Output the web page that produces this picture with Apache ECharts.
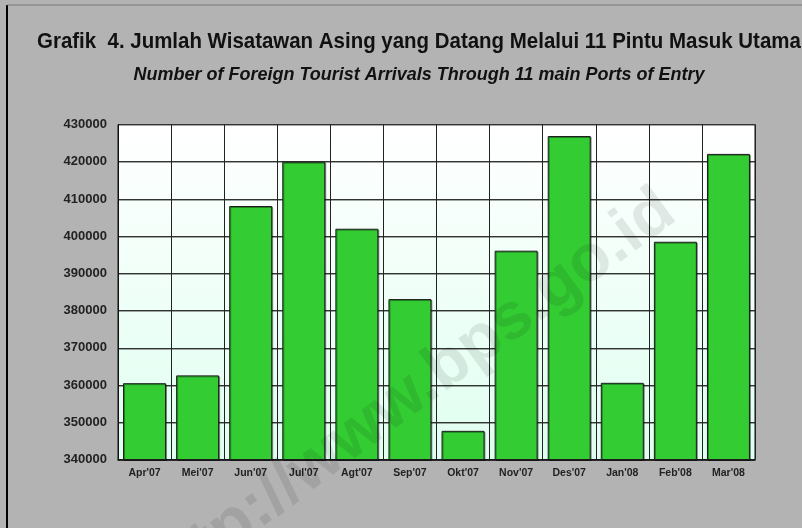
<!DOCTYPE html>
<html>
<head>
<meta charset="utf-8">
<script src="https://cdn.jsdelivr.net/npm/echarts@6/dist/echarts.min.js"></script>
<style>
  html, body { margin: 0; padding: 0; background: #b3b3b3; }
  #chart { width: 802px; height: 528px; }
</style>
</head>
<body>
<div id="chart"></div>
<script>
// data
var months = ["Apr'07", "Mei'07", "Jun'07", "Jul'07", "Agt'07", "Sep'07",
              "Okt'07", "Nov'07", "Des'07", "Jan'08", "Feb'08", "Mar'08"];
var arrivals = [360500, 362600, 408100, 420000, 402000, 383100,
                347700, 396100, 426900, 360600, 398500, 422100];
var yMin = 340000;
var yMax = 430000;
var yStep = 10000;

var titleText = "Grafik  4. Jumlah Wisatawan Asing yang Datang Melalui 11 Pintu Masuk Utama";
var subText = "Number of Foreign Tourist Arrivals Through 11 main Ports of Entry";
var markText = "http://www.bps.go.id";

var sans = '"Liberation Sans", Arial, sans-serif';

var chart = echarts.init(document.getElementById('chart'));
chart.setOption({
    backgroundColor: '#b3b3b3',
    animation: false,
    grid: {
        left: 118,
        right: 47,
        top: 124.5,
        bottom: 68.5,
        show: true,
        borderColor: '#111',
        borderWidth: 1,
        backgroundColor: {
            type: 'linear', x: 0, y: 0, x2: 0, y2: 1,
            colorStops: [
                {offset: 0, color: '#ffffff'},
                {offset: 1, color: '#dffff0'}
            ]
        }
    },
    xAxis: {
        type: 'category',
        data: months,
        axisLine: {show: true, lineStyle: {color: '#111', width: 1.5}},
        axisTick: {show: false},
        splitLine: {show: true, lineStyle: {color: '#222', width: 1}},
        axisLabel: {
            fontFamily: sans,
            fontWeight: 'bold',
            fontSize: 10.5,
            color: '#222',
            margin: 8
        }
    },
    yAxis: {
        type: 'value',
        min: yMin,
        max: yMax,
        interval: yStep,
        axisLine: {show: true, lineStyle: {color: '#111'}},
        axisTick: {show: false},
        splitLine: {
            show: true,
            lineStyle: {color: '#333', width: 1.2, shadowColor: 'rgba(0,0,0,0.35)', shadowOffsetY: 1}
        },
        axisLabel: {
            fontFamily: sans,
            fontWeight: 'bold',
            fontSize: 13,
            color: '#222',
            margin: 11,
            formatter: function (v) { return String(v); }
        }
    },
    series: [{
        type: 'bar',
        data: arrivals,
        barCategoryGap: '19%',
        itemStyle: {
            color: '#33cc33',
            borderColor: '#1a1a1a',
            borderWidth: 1,
            shadowColor: 'rgba(0,0,0,0.35)',
            shadowOffsetX: 1,
            shadowOffsetY: 1
        }
    }],
    graphic: [
        {type: 'line', shape: {x1: 7, y1: 5, x2: 7, y2: 528}, style: {stroke: '#000', lineWidth: 2}},
        {type: 'line', shape: {x1: 7, y1: 5, x2: 802, y2: 5}, style: {stroke: '#777', lineWidth: 1}},
        {
            type: 'text',
            x: 37, y: 31,
            scaleX: 0.93,
            style: {
                text: titleText,
                fontFamily: sans,
                fontWeight: 'bold',
                fontSize: 22,
                fill: '#111',
                align: 'left',
                verticalAlign: 'top'
            }
        },
        {
            type: 'text',
            x: 419, y: 66,
            style: {
                text: subText,
                fontFamily: sans,
                fontWeight: 'bold',
                fontStyle: 'italic',
                fontSize: 18,
                fill: '#111',
                align: 'center',
                verticalAlign: 'top'
            }
        },
        {
            type: 'text',
            x: 668, y: 204,
            rotation: 36.5 * Math.PI / 180,
            style: {
                text: markText,
                fontFamily: sans,
                fontWeight: 'bold',
                fontSize: 66,
                fill: 'rgba(0,0,0,0.09)',
                align: 'right',
                verticalAlign: 'middle'
            },
            z: 100
        }
    ]
});
</script>
</body>
</html>
